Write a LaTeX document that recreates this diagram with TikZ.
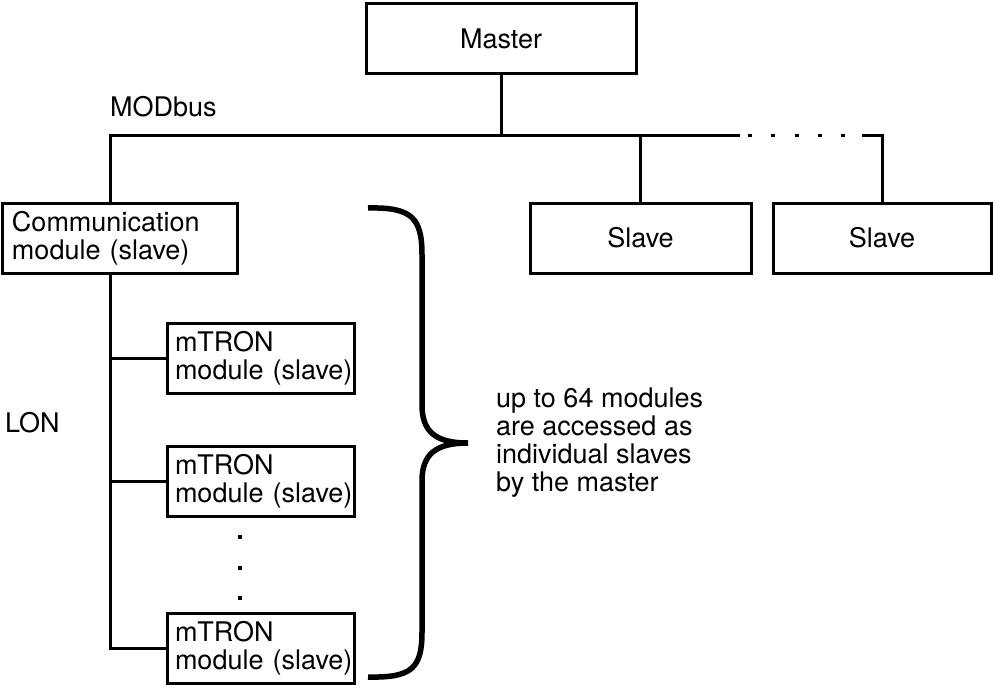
\documentclass[tikz,border=0pt]{standalone}
\usepackage{fontspec}
\setmainfont{TeX Gyre Heros}
\usetikzlibrary{positioning,calc}

\begin{document}
\begin{tikzpicture}[
    x=1pt, y=-1pt,
    font=\fontsize{27}{28}\selectfont,
    box/.style={
        draw,
        line width=3pt,
        minimum width=#1,
        minimum height=70pt,
        inner sep=0pt,
        align=center
    },
    modbox/.style 2 args={
        draw,
        line width=3pt,
        minimum height=70pt,
        inner xsep=#2,
        inner ysep=0pt,
        text width=#1,
        align=left
    },
    busline/.style={line width=3pt},
    tag/.style={inner sep=0pt}
]

\useasboundingbox (0,0) rectangle (993,685);

%------------------------------------------------
% Master and MODbus slaves
%------------------------------------------------

\node[box=270pt] (master) at (501,39) {Master};

\node[modbox={215pt}{10pt}] (comm) at (119.5,238)
{\mbox{Communication}\\\mbox{module (slave)}};

\node[box=221pt] (slave1) at (640.5,238) {Slave};
\node[box=218pt] (slave2) at (882,238) {Slave};

\node[tag,anchor=base west] (modbus) at (110,116) {MODbus};

%------------------------------------------------
% MODbus line
%------------------------------------------------

\coordinate (busW) at (110,135);
\coordinate (busE) at (slave2.north |- busW);
\coordinate (dotsW) at (740,135);
\coordinate (dotsE) at (862,135);

\draw[busline] (master.south) -- (master.south |- busW);
\draw[busline] (comm.north -| busW) -- (busW) -- (dotsW);
\draw[busline,dash pattern=on 0pt off 8pt on 4pt off 11.25pt] (dotsW) -- (dotsE);
\draw[busline] (dotsE) -- (busE) -- (slave2.north);
\draw[busline] (slave1.north) -- (slave1.north |- busW);

%------------------------------------------------
% LON modules
%------------------------------------------------

\node[modbox={171pt}{8pt}] (m1) at (260.5,358)
{\mbox{mTRON}\\\mbox{module (slave)}};
\node[modbox={171pt}{8pt},below=50pt of m1] (m2)
{\mbox{mTRON}\\\mbox{module (slave)}};
\node[modbox={171pt}{8pt},below=94pt of m2] (m3)
{\mbox{mTRON}\\\mbox{module (slave)}};

\node[tag,anchor=west] (lonlabel) at (5,423) {LON};

\coordinate (lontap) at (comm.south -| busW);

\draw[busline] (lontap) |- (m3.west);
\foreach \m in {m1,m2}
\draw[busline] (\m.west) -- (\m.west -| lontap);

\draw[line width=4pt,dash pattern=on 4pt off 26.5pt] (240,535) -- (240,602);

%------------------------------------------------
% Brace and note
%------------------------------------------------

\draw[line width=5.5pt]
(368,208) .. controls (412,207) and (422,218) .. (422,255)
-- (422,405) .. controls (422,432) and (436,443) .. (468,443)
.. controls (436,443) and (422,454) .. (422,481)
-- (422,632) .. controls (422,668) and (412,678) .. (368,677);

\node[tag,anchor=west,align=left] (note) at (496,443)
{up to 64 modules\\are accessed as\\individual slaves\\by the master};

\end{tikzpicture}
\end{document}
